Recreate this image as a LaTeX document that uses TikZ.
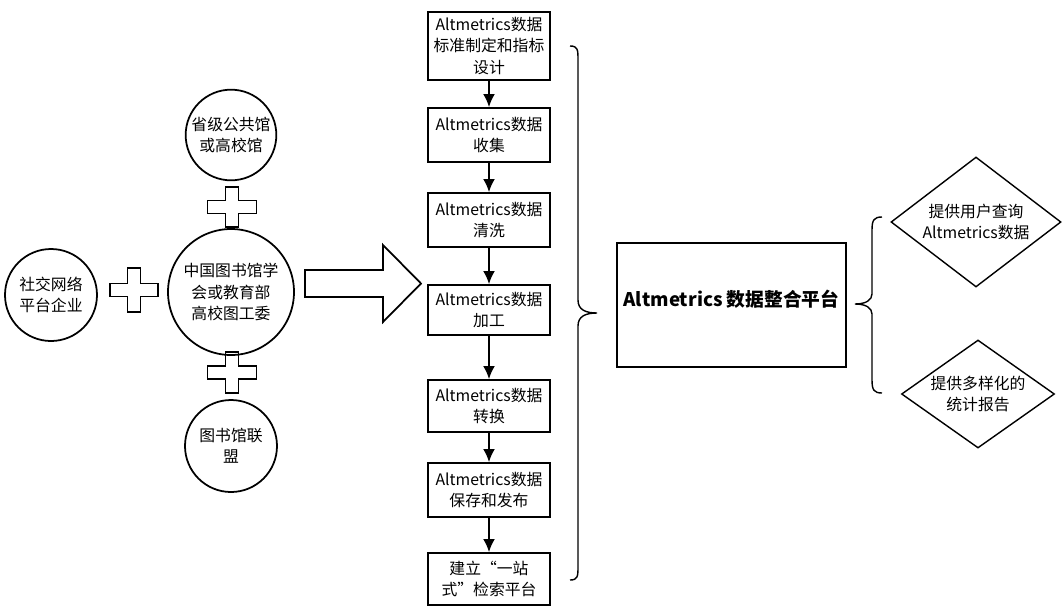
\documentclass[tikz,border=0pt]{standalone}
\usepackage{fontspec}
\setmainfont{Noto Sans CJK SC}
\usetikzlibrary{shapes.geometric,arrows.meta}

\tikzset{
  party/.style={draw, circle, line width=1.5pt, align=center, inner sep=0pt,
    font=\fontsize{13.5}{18}\selectfont},
  stepbox/.style={draw, line width=1.5pt, minimum width=3.66cm, align=center,
    inner sep=1pt, font=\fontsize{13.5}{18}\selectfont},
  service/.style={draw, diamond, line width=1.2pt, align=center, inner sep=0pt,
    font=\fontsize{13.5}{18}\selectfont},
  flow/.style={line width=1.5pt, -{Latex[length=11pt,width=10pt]}}
}

\begin{document}
\begin{tikzpicture}[x=0.03cm, y=-0.03cm]
    \useasboundingbox (0,0) rectangle (1062,606);

    % Partenaires
    \node[party, minimum size=2.76cm] (soc) at (51,295) {社交网络\\平台企业};
    \node[party, minimum size=3.78cm] (hub) at (231,292) {中国图书馆学\\会或教育部\\高校图工委};
    \node[party, minimum size=2.72cm] (prov) at (231,135) {省级公共馆\\或高校馆};
    \node[party, minimum size=2.76cm] (union) at (231,446) {图书馆联\\盟};

    % Signes plus
    \foreach \cx/\cy/\hw/\hh in {134/290/24/22, 232/207/24.5/20, 232/372.5/24.5/20.5}{
        \draw[line width=1.5pt] (\cx-6.5,\cy-\hh) -- (\cx+6.5,\cy-\hh) -- (\cx+6.5,\cy-6.5)
            -- (\cx+\hw,\cy-6.5) -- (\cx+\hw,\cy+6.5) -- (\cx+6.5,\cy+6.5) -- (\cx+6.5,\cy+\hh)
            -- (\cx-6.5,\cy+\hh) -- (\cx-6.5,\cy+6.5) -- (\cx-\hw,\cy+6.5) -- (\cx-\hw,\cy-6.5)
            -- (\cx-6.5,\cy-6.5) -- cycle;
    }

    % Grande fleche
    \draw[line width=1.5pt] (305,270) -- (383,270) -- (383,245) -- (421,283.5)
        -- (383,322) -- (383,297) -- (305,297) -- cycle;

    % Etapes
    \node[stepbox, minimum height=2.04cm] (s1) at (489,46) {Altmetrics数据\\标准制定和指标\\设计};
    \node[stepbox, minimum height=1.62cm] (s2) at (489,135) {Altmetrics数据\\收集};
    \node[stepbox, minimum height=1.62cm] (s3) at (489,220) {Altmetrics数据\\清洗};
    \node[stepbox, minimum height=1.5cm] (s4) at (489,310) {Altmetrics数据\\加工};
    \node[stepbox, minimum height=1.56cm] (s5) at (489,406) {Altmetrics数据\\转换};
    \node[stepbox, minimum height=1.62cm] (s6) at (489,490) {Altmetrics数据\\保存和发布};
    \node[stepbox, minimum height=1.56cm] (s7) at (489,579) {建立“一站\\式”检索平台};

    \foreach \a/\b in {s1/s2, s2/s3, s3/s4, s4/s5, s5/s6, s6/s7}
        \draw[flow] (\a) -- (\b);

    % Accolades
    \draw[line width=1.2pt] (570,46) .. controls (578,46) and (578,50) .. (578,60)
        -- (578,300) .. controls (578,310) and (586,313) .. (597,313)
        .. controls (586,313) and (578,316) .. (578,326)
        -- (578,566) .. controls (578,576) and (578,580) .. (570,580);
    \draw[line width=1.2pt] (882,217) .. controls (874,217) and (872,220) .. (872,230)
        -- (872,294) .. controls (872,300) and (866,304) .. (855,304)
        .. controls (866,304) and (872,308) .. (872,314)
        -- (872,380) .. controls (872,390) and (874,393) .. (882,393);

    % Plateforme
    \node[draw, line width=2pt, minimum width=6.87cm, minimum height=3.72cm, text depth=0.42cm,
        font=\bfseries\fontsize{16}{20}\selectfont] (plat) at (731.5,305) {Altmetrics 数据整合平台};

    % Services
    \node[service, aspect=1.3, minimum width=5.1cm, minimum height=3.9cm] (query) at (976,222) {提供用户查询\\Altmetrics数据};
    \node[service, aspect=1.42, minimum width=4.59cm, minimum height=3.24cm] (report) at (978,394) {提供多样化的\\统计报告};

\end{tikzpicture}
\end{document}
